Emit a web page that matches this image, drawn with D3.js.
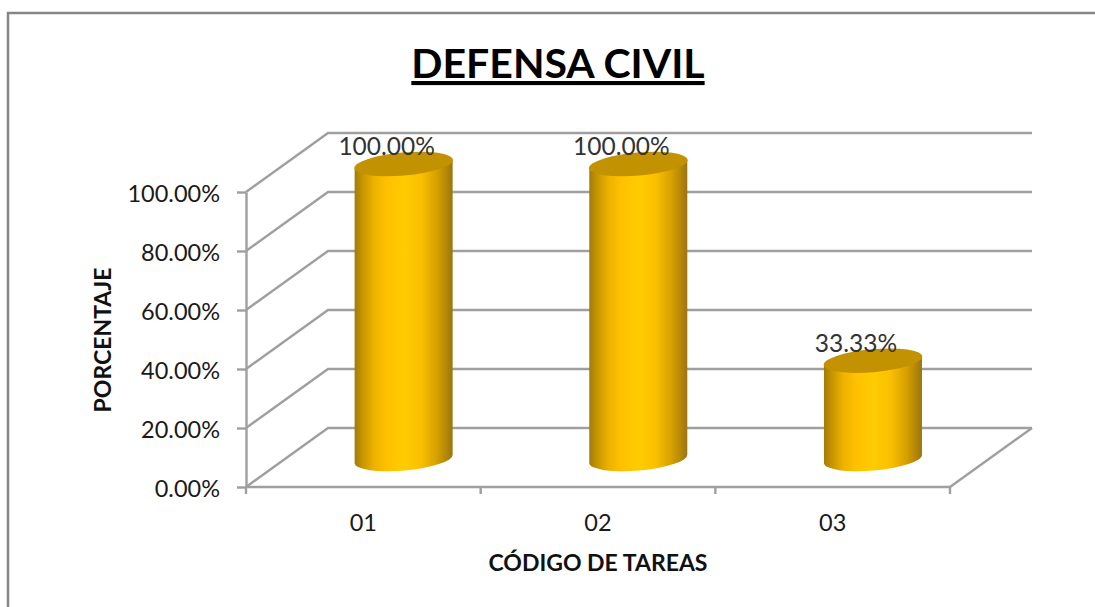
<!DOCTYPE html>
<html><head><meta charset="utf-8">
<script src="https://cdn.jsdelivr.net/npm/d3@7/dist/d3.min.js"></script>
<style>html,body{margin:0;padding:0;background:#fff}svg{display:block}text{font-family:Lato,"Open Sans",sans-serif}</style>
</head><body><svg id="c" width="1095" height="607"></svg>
<script>
const categories = ["01","02","03"];
const values = [100,100,33.33];
const valueLabels = ["100.00%","100.00%","33.33%"];
const yTicks = [0,20,40,60,80,100];
const titleText = "DEFENSA CIVIL";
const xTitle = "CÓDIGO DE TAREAS";
const yTitle = "PORCENTAJE";

const svg = d3.select("#c");
const plotL=246,plotR=950,plotB=487,plotT=192,dx=82,dy=-59;
const x = d3.scaleBand().domain(categories).range([plotL,plotR]);
const y = d3.scaleLinear().domain([0,100]).range([plotB,plotT]);
const grey="#9f9f9f";

const defs = svg.append("defs");
const g = defs.append("linearGradient").attr("id","cyl").attr("x1",0).attr("x2",1).attr("y1",0).attr("y2",0);
[[0,"#a37a08"],[0.08,"#c69500"],[0.2,"#eeb200"],[0.32,"#ffc000"],[0.5,"#ffcc00"],[0.68,"#fac000"],[0.84,"#d6a000"],[0.94,"#b28608"],[1,"#997414"]]
 .forEach(([o,c])=>g.append("stop").attr("offset",o).attr("stop-color",c));

// chart frame
svg.append("path").attr("d","M8,607V13H1095").attr("fill","none").attr("stroke","#868686").attr("stroke-width",2.5);

// wall gridlines
const wall = svg.append("g").attr("fill","none").attr("stroke",grey).attr("stroke-width",2.4);
wall.selectAll("path").data(yTicks).join("path")
 .attr("d",d=>`M${plotL},${y(d)}L${plotL+dx},${y(d)+dy}H${plotR+dx}`);
wall.append("path").attr("d",`M${plotR},${plotB}L${plotR+dx},${plotB+dy}`);

// axes
const yAxis = d3.axisLeft(y).tickValues(yTicks).tickFormat(d=>d.toFixed(2)+"%").tickSize(9).tickPadding(17).tickSizeOuter(0);
const ya = svg.append("g").attr("transform",`translate(${plotL},0)`).call(yAxis);
const xTicks = d3.range(categories.length+1).map(i=>plotL+i*x.step());
const xa = svg.append("g");
xa.append("path").attr("d",`M${plotL},${plotB}H${plotR}`);
xa.selectAll("line").data(xTicks).join("line").attr("x1",d=>d).attr("x2",d=>d).attr("y1",plotB).attr("y2",plotB+7);
xa.selectAll("text").data(categories).join("text").attr("x",d=>x(d)+x.bandwidth()/2).attr("y",531)
 .attr("text-anchor","middle").attr("font-size",23.5).attr("fill","#1a1a1a").text(d=>d);
xa.selectAll("path,line").attr("fill","none").attr("stroke",grey).attr("stroke-width",2.4);
ya.selectAll("path,line").attr("stroke",grey).attr("stroke-width",2.4);
ya.selectAll("text").attr("font-size",23.5).attr("fill","#1a1a1a").attr("dy","0.42em").style("font-family","Lato");

// cylinders
const barW=98, ry=11.5, tilt=-5, baseShift=-28;
const cx=d=>x(d)+x.bandwidth()/2+dx/2-0.7;
const bars = svg.append("g").selectAll("g").data(categories).join("g");
const vy=i=>y(values[i])+baseShift;
bars.append("path").attr("fill","url(#cyl)").attr("d",(d,i)=>{
  const c=cx(d),r=barW/2,o=r*Math.tan(-tilt*Math.PI/180);
  const yb=y(0)+baseShift,yt=vy(i);
  return `M${c-r},${yt+o}L${c-r},${yb+o}A${r},${ry} ${tilt} 0 0 ${c+r},${yb-o}L${c+r},${yt-o}Z`;
});
bars.append("ellipse").attr("fill","#c39200").attr("rx",barW/2+0.5).attr("ry",ry)
 .attr("transform",(d,i)=>`translate(${cx(d)},${vy(i)}) rotate(${tilt})`);
bars.append("text").attr("x",d=>cx(d)-17).attr("y",(d,i)=>vy(i)-9).attr("text-anchor","middle")
 .attr("font-size",24.5).attr("fill","#333").text((d,i)=>valueLabels[i]);

// titles
svg.append("text").attr("x",558).attr("y",78).attr("text-anchor","middle").attr("font-size",41).attr("font-weight",700)
 .attr("fill","#000").attr("text-decoration","underline").text(titleText);
svg.append("text").attr("x",598).attr("y",571).attr("text-anchor","middle").attr("font-size",23).attr("font-weight",700)
 .attr("fill","#111").text(xTitle);
svg.append("text").attr("transform","translate(111,340) rotate(-90)").attr("text-anchor","middle").attr("font-size",23).attr("font-weight",700)
 .attr("fill","#111").text(yTitle);
</script></body></html>
